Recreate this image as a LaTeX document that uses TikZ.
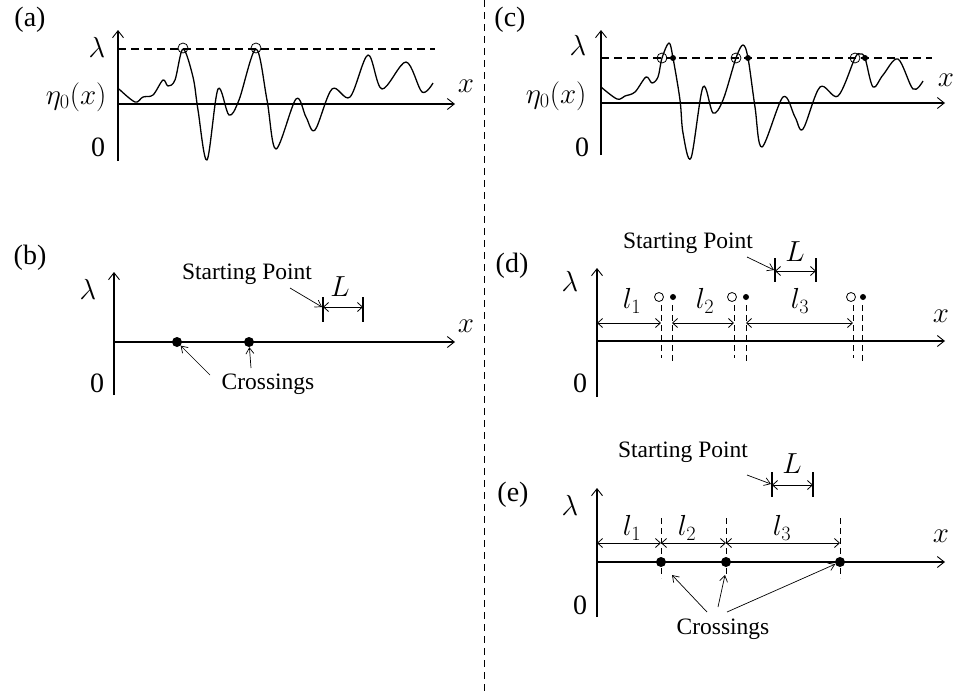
\RequirePackage{fix-cm}
\documentclass[tikz,border=0pt]{standalone}
\usepackage{fontspec}
\setmainfont{Liberation Serif}
\usetikzlibrary{arrows.meta}

\tikzset{
  axis/.style={line width=1.6pt,-{Straight Barb[length=7pt,width=11pt,line width=0.9pt]}},
  curve/.style={line width=1.3pt,line join=round},
  level/.style={line width=1.2pt,dash pattern=on 8pt off 5pt},
  guide/.style={line width=0.8pt,dash pattern=on 6pt off 4pt},
  dimline/.style={line width=0.8pt,{Straight Barb[length=5pt,width=9pt]}-{Straight Barb[length=5pt,width=9pt]}},
  tick/.style={line width=1.4pt},
  pointer/.style={line width=0.7pt,-{Straight Barb[length=6pt,width=8pt]}},
  panel/.style={font=\fontsize{28}{30}\selectfont},
  txt/.style={font=\fontsize{23.5}{28}\selectfont},
  mth/.style={font=\fontsize{29}{32}\selectfont},
  hit/.style={circle,fill,inner sep=0pt,minimum size=#1},
  hit/.default=10pt,
  miss/.style={circle,draw,line width=0.8pt,inner sep=0pt,minimum size=#1},
  miss/.default=10pt
}

\begin{document}
\begin{tikzpicture}[x=1pt,y=-1pt]
\useasboundingbox (0,0) rectangle (956,694);
% divider
\draw[line width=0.8pt,dash pattern=on 7pt off 5pt] (484,0) -- (484,694);

% (a)
\node[panel] (a-tag) at (30,20) {(a)};
\coordinate (a-bot) at (118,161);
\coordinate (a-top) at (118,30);
\coordinate (a-xs) at (118,104);
\coordinate (a-xe) at (455,104);
\coordinate (a-ls) at (118,49);
\coordinate (a-le) at (435,49);
\draw[axis] (a-bot) -- (a-top);
\draw[axis] (a-xs) -- (a-xe);
\draw[level] (a-ls) -- (a-le);
\node[mth] (a-lam) at (97,47) {$\lambda$};
\node[mth,anchor=east] (a-eta) at (110,97) {$\eta_0(x)$};
\node[panel] (a-zero) at (98,147) {0};
\node[mth] (a-x) at (466,86) {$x$};
\draw[curve] plot[smooth,tension=0.55] coordinates {
  (119,89) (135,102) (143,97) (153,95) (163,80) (168,86) (175,80) (183,49)
  (193,77) (198,110) (207,160) (218,89) (229,115) (239,100) (256,49)
  (267,100) (276,149) (296,99) (306,117) (315,130) (332,89) (350,97)
  (368,55) (382,89) (406,62) (422,92) (433,83)};
\node[miss] (a-c1) at (183,48) {};
\node[miss] (a-c2) at (256,48) {};

% (b)
\node[panel] (b-tag) at (30,258) {(b)};
\coordinate (b-bot) at (114,395);
\coordinate (b-top) at (114,272);
\coordinate (b-xs) at (114,342);
\coordinate (b-xe) at (455,342);
\draw[axis] (b-bot) -- (b-top);
\draw[axis] (b-xs) -- (b-xe);
\node[mth] (b-lam) at (88,289) {$\lambda$};
\node[panel] (b-zero) at (97,383) {0};
\node[mth] (b-x) at (466,326) {$x$};
\node[hit] (b-d1) at (177,342) {};
\node[hit] (b-d2) at (249,342) {};
\node[txt] (b-start) at (247,274) {Starting Point};
\coordinate (b-sp) at (290,288);
\coordinate (b-L1a) at (323,297);
\coordinate (b-L1b) at (323,322);
\coordinate (b-L2a) at (363,297);
\coordinate (b-L2b) at (363,322);
\draw[tick] (b-L1a) -- (b-L1b);
\draw[tick] (b-L2a) -- (b-L2b);
\draw[dimline] (323,307) -- (363,307);
\draw[pointer] (b-sp) -- (322,307);
\node[mth] (b-L) at (340,287) {$L$};
\node[txt] (b-cross) at (268,384) {Crossings};
\coordinate (b-p1) at (210,375);
\coordinate (b-p2) at (251,368);
\draw[pointer] (b-p1) -- (b-d1);
\draw[pointer] (b-p2) -- (b-d2);

% (c)
\node[panel] (c-tag) at (510,20) {(c)};
\coordinate (c-bot) at (601,155);
\coordinate (c-top) at (601,30);
\coordinate (c-xs) at (601,103);
\coordinate (c-xe) at (945,103);
\coordinate (c-ls) at (601,58);
\coordinate (c-le) at (932,58);
\draw[axis] (c-bot) -- (c-top);
\draw[axis] (c-xs) -- (c-xe);
\draw[level] (c-ls) -- (c-le);
\node[mth] (c-lam) at (578,45) {$\lambda$};
\node[mth,anchor=east] (c-eta) at (590,96) {$\eta_0(x)$};
\node[panel] (c-zero) at (582,147) {0};
\node[mth] (c-x) at (946,80) {$x$};
\draw[curve] plot[smooth,tension=0.55] coordinates {
  (601,87) (617,99) (625,96) (635,92) (646,77) (652,83) (658,77) (662,58)
  (669,43) (673,58) (680,100) (683,133) (691,158) (703,87) (713,113)
  (723,100) (736,58) (743,45) (748,58) (755,107) (762,147) (783,97)
  (795,117) (803,129) (820,87) (838,96) (855,58) (860,54) (865,58)
  (873,87) (883,75) (898,59) (913,89) (923,81)};
\node[miss] (c-c1) at (662,58) {};
\node[miss] (c-c2) at (736,58) {};
\node[miss] (c-c3) at (855,58) {};
\node[hit=6pt] (c-d1) at (673,58) {};
\node[hit=6pt] (c-d2) at (748,58) {};
\node[hit=6pt] (c-d3) at (865,58) {};

% (d)
\node[panel] (d-tag) at (512,266) {(d)};
\coordinate (d-bot) at (597,397);
\coordinate (d-top) at (597,268);
\coordinate (d-xs) at (597,341);
\coordinate (d-xe) at (945,341);
\draw[axis] (d-bot) -- (d-top);
\draw[axis] (d-xs) -- (d-xe);
\node[mth] (d-lam) at (570,281) {$\lambda$};
\node[panel] (d-zero) at (580,383) {0};
\node[mth] (d-x) at (941,316) {$x$};
\node[txt] (d-start) at (688,243) {Starting Point};
\coordinate (d-sp) at (747,257);
\coordinate (d-L1a) at (775,258);
\coordinate (d-L1b) at (775,282);
\coordinate (d-L2a) at (816,258);
\coordinate (d-L2b) at (816,282);
\draw[tick] (d-L1a) -- (d-L1b);
\draw[tick] (d-L2a) -- (d-L2b);
\draw[dimline] (775,271) -- (816,271);
\draw[pointer] (d-sp) -- (774,270);
\node[mth] (d-L) at (795,252) {$L$};
\node[miss=9pt] (d-c1) at (659,297) {};
\node[miss=9pt] (d-c2) at (732,297) {};
\node[miss=9pt] (d-c3) at (851,297) {};
\node[hit=6pt] (d-d1) at (673,297) {};
\node[hit=6pt] (d-d2) at (746,297) {};
\node[hit=6pt] (d-d3) at (863,297) {};
\foreach \cx/\dx [count=\i] in {661/672,734/746,853/862}{
  \coordinate (d-g\i a) at (\cx,305);
  \coordinate (d-g\i b) at (\cx,358);
  \coordinate (d-h\i a) at (\dx,305);
  \coordinate (d-h\i b) at (\dx,362);
  \draw[guide] (d-g\i a) -- (d-g\i b);
  \draw[guide] (d-h\i a) -- (d-h\i b);
}
\draw[dimline] (597,323) -- (661,323);
\draw[dimline] (672,323) -- (734,323);
\draw[dimline] (746,323) -- (853,323);
\node[mth] (d-l1) at (632,301) {$l_1$};
\node[mth] (d-l2) at (705,301) {$l_2$};
\node[mth] (d-l3) at (800,301) {$l_3$};

% (e)
\node[panel] (e-tag) at (513,495) {(e)};
\coordinate (e-bot) at (597,617);
\coordinate (e-top) at (597,488);
\coordinate (e-xs) at (597,562);
\coordinate (e-xe) at (945,562);
\draw[axis] (e-bot) -- (e-top);
\draw[axis] (e-xs) -- (e-xe);
\node[mth] (e-lam) at (570,505) {$\lambda$};
\node[panel] (e-zero) at (580,605) {0};
\node[mth] (e-x) at (941,536) {$x$};
\node[txt] (e-start) at (683,452) {Starting Point};
\coordinate (e-sp) at (747,475);
\coordinate (e-L1a) at (772,472);
\coordinate (e-L1b) at (772,497);
\coordinate (e-L2a) at (813,472);
\coordinate (e-L2b) at (813,497);
\draw[tick] (e-L1a) -- (e-L1b);
\draw[tick] (e-L2a) -- (e-L2b);
\draw[dimline] (772,485) -- (813,485);
\draw[pointer] (e-sp) -- (771,484);
\node[mth] (e-L) at (792,464) {$L$};
\foreach \dx [count=\i] in {661,726,840}{
  \coordinate (e-g\i a) at (\dx,518);
  \coordinate (e-g\i b) at (\dx,578);
  \draw[guide] (e-g\i a) -- (e-g\i b);
  \node[hit] (e-d\i) at (\dx,562) {};
}
\draw[dimline] (597,543) -- (661,543);
\draw[dimline] (661,543) -- (726,543);
\draw[dimline] (726,543) -- (840,543);
\node[mth] (e-l1) at (632,528) {$l_1$};
\node[mth] (e-l2) at (687,528) {$l_2$};
\node[mth] (e-l3) at (782,528) {$l_3$};
\node[txt] (e-cross) at (723,629) {Crossings};
\coordinate (e-p1) at (707,612);
\coordinate (e-p2) at (718,607);
\coordinate (e-p3) at (727,612);
\draw[pointer] (e-p1) -- (672,575);
\draw[pointer] (e-p2) -- (725,575);
\draw[pointer] (e-p3) -- (e-d3);
\end{tikzpicture}
\end{document}
